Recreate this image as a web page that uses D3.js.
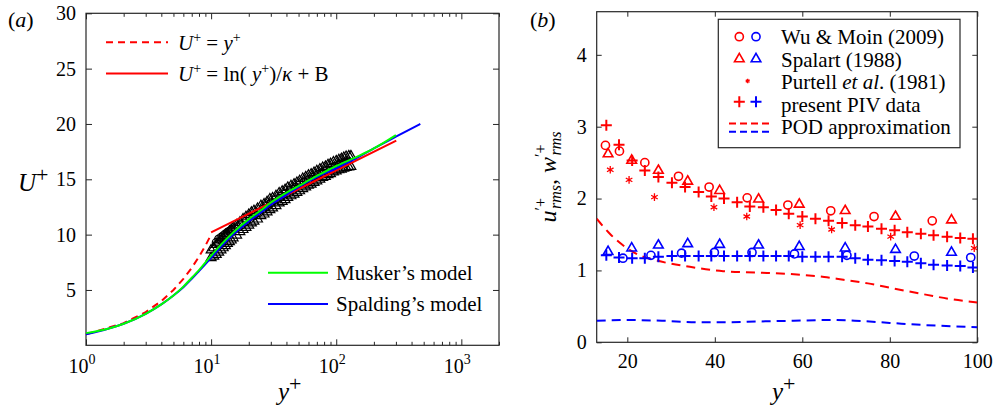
<!DOCTYPE html>
<html>
<head>
<meta charset="utf-8">
<script src="https://cdn.jsdelivr.net/npm/d3@7"></script>
</head>
<body style="margin:0; background:#fff">
<svg id="chart" width="999" height="411"></svg>
<script>
// ---- panel (a): mean velocity, U+ vs y+ ----
var linearY = [1, 2, 3, 4, 5, 6, 7, 8, 9, 10];
var linearU = [1, 2, 3, 4, 5, 6, 7, 8, 9, 10];
var logLawY = [10, 55, 302];
var logLawU = [10.2, 14.35, 18.5];
var muskerY = [1, 1.5, 2, 3, 4, 5, 6, 7, 8, 10, 12, 15, 20, 25, 30, 40, 50, 70, 100, 150, 200, 300];
var muskerU = [1.1, 1.5, 1.95, 2.85, 3.7, 4.5, 5.3, 6.1, 6.8, 8.1, 9.1, 10.2, 11.4, 12.2, 12.9, 13.8, 14.4, 15.3, 16.2, 17.1, 17.8, 19.0];
var spaldingY = [1, 1.5, 2, 3, 4, 5, 6, 7, 8, 10, 12, 15, 20, 25, 30, 40, 50, 70, 100, 150, 200, 300, 470];
var spaldingU = [1.0, 1.5, 1.95, 2.85, 3.7, 4.5, 5.25, 6.0, 6.7, 7.9, 8.9, 10.0, 11.2, 12.0, 12.7, 13.6, 14.3, 15.2, 16.0, 17.0, 17.8, 18.85, 20.0];

// measured profiles (black triangles / circles), upper, middle and lower parts of the band
var triY = [10, 10.5, 11, 11.5, 12, 12.5, 13, 13.5, 14, 14.5, 15, 16, 17, 18, 19, 20, 21, 22, 23.5, 25, 26.5, 28, 29.5, 31, 33, 35, 37, 39, 41, 43.5, 46, 48.5, 51, 54, 57, 60, 63, 66.5, 70, 74, 78, 82, 86, 90, 95, 100, 105, 110, 115, 120, 126, 131];
var triUpperU = [8.6, 8.8, 9.1, 9.3, 9.5, 9.7, 9.9, 10.1, 10.3, 10.45, 10.6, 10.85, 11.1, 11.4, 11.6, 11.8, 12.0, 12.15, 12.35, 12.6, 12.75, 12.95, 13.2, 13.3, 13.5, 13.75, 13.9, 14.05, 14.25, 14.4, 14.55, 14.7, 14.85, 15.05, 15.2, 15.35, 15.45, 15.6, 15.75, 15.9, 16.05, 16.15, 16.3, 16.4, 16.55, 16.65, 16.75, 16.85, 16.95, 17.05, 17.1, 17.1];
var triLowerU = [7.9, 8.05, 8.2, 8.4, 8.6, 8.8, 9.0, 9.2, 9.35, 9.5, 9.7, 9.95, 10.25, 10.45, 10.65, 10.85, 11.05, 11.2, 11.4, 11.7, 11.85, 12.05, 12.25, 12.4, 12.6, 12.85, 13.0, 13.15, 13.35, 13.5, 13.65, 13.8, 13.95, 14.15, 14.3, 14.45, 14.55, 14.7, 14.85, 15.0, 15.15, 15.25, 15.4, 15.5, 15.65, 15.75, 15.85, 15.9, 16.0, 16.05, 16.1, 16.15];
var circY = [11, 11.5, 12, 12.5, 13, 13.5, 14, 14.5, 15.5, 16.5, 17.5, 19, 20.5, 22, 24, 26, 28, 30, 33, 36, 39.5, 43, 47, 51, 55.5, 60, 65, 71, 77, 84, 91, 98, 106, 115, 124];
var circU = [9.3, 9.6, 9.75, 9.9, 10.05, 10.2, 10.3, 10.4, 10.55, 10.7, 10.9, 11.2, 11.45, 11.7, 12.0, 12.3, 12.55, 12.85, 13.15, 13.45, 13.7, 14.0, 14.25, 14.5, 14.75, 14.95, 15.2, 15.4, 15.6, 15.8, 16.0, 16.15, 16.35, 16.5, 16.65];

var aYTicks = [5, 10, 15, 20, 25, 30];
var aXDecades = [1, 10, 100, 1000];
var aXExponents = ['0', '1', '2', '3'];

// ---- panel (b): rms fluctuations ----
var pivY = [15.2, 18.1, 21.1, 24, 27.1, 30.2, 33.2, 36.3, 39.2, 42.1, 45.1, 48, 51.1, 54, 56.9, 60, 63, 66, 69.1, 72.1, 75, 78.1, 81.1, 84, 87.1, 90, 93.1, 96.1, 99];
var pivU = [3.02, 2.75, 2.53, 2.39, 2.30, 2.22, 2.16, 2.09, 2.03, 2.00, 1.95, 1.89, 1.88, 1.84, 1.79, 1.75, 1.72, 1.69, 1.66, 1.63, 1.61, 1.58, 1.56, 1.53, 1.51, 1.49, 1.47, 1.45, 1.44];
var pivW = [1.21, 1.18, 1.17, 1.17, 1.19, 1.20, 1.20, 1.20, 1.20, 1.20, 1.20, 1.20, 1.20, 1.20, 1.20, 1.19, 1.19, 1.19, 1.19, 1.17, 1.15, 1.14, 1.13, 1.12, 1.10, 1.08, 1.07, 1.06, 1.04];

var wuUY = [15, 18.2, 24, 31.7, 38.7, 47.4, 56.7, 66.5, 76.4, 89.7];
var wuU = [2.74, 2.66, 2.50, 2.31, 2.16, 2.01, 1.91, 1.83, 1.75, 1.69];
var wuWY = [19, 25.4, 32.4, 39.9, 48.5, 58.2, 70.2, 85.6, 98.5];
var wuW = [1.17, 1.21, 1.24, 1.25, 1.25, 1.23, 1.21, 1.20, 1.18];

var spalartY = [15.6, 21, 27.1, 33.8, 41.1, 50, 59.3, 69.8, 81.3, 94.1];
var spalartU = [2.62, 2.53, 2.39, 2.24, 2.11, 1.99, 1.92, 1.83, 1.75, 1.70];
var spalartW = [1.26, 1.31, 1.35, 1.37, 1.36, 1.35, 1.33, 1.31, 1.29, 1.25];

var purtellY = [16.1, 20.4, 26.2, 39.8, 47.3, 59.5, 66.7, 80.2, 99.3];
var purtellU = [2.40, 2.26, 2.02, 1.88, 1.75, 1.63, 1.57, 1.47, 1.31];

var podUY = [13, 16, 19, 22.8, 26.6, 34.3, 41.9, 50.3, 59.5, 65, 69.4, 75, 80.8, 88.5, 94, 100];
var podU = [1.72, 1.51, 1.35, 1.21, 1.14, 1.05, 0.99, 0.97, 0.94, 0.91, 0.87, 0.82, 0.75, 0.66, 0.60, 0.555];
var podWY = [13, 20, 28, 36, 43, 50, 58, 66, 72, 80, 88, 100];
var podW = [0.30, 0.31, 0.30, 0.28, 0.28, 0.29, 0.30, 0.31, 0.30, 0.27, 0.24, 0.21];

var bXTicks = [20, 40, 60, 80, 100];
var bYTicks = [0, 1, 2, 3, 4];

var RED = '#ff0000', BLUE = '#0000ff', GREEN = '#00ff00', AXIS = '#262626';

var svg = d3.select('#chart');

var boxA = {left: 86, right: 499, top: 13.3, bottom: 345.3};
var boxB = {left: 596.7, right: 977.3, top: 11.7, bottom: 342.3};

var xA = d3.scaleLog().domain([1, 2000]).range([boxA.left, boxA.right]);
var yA = d3.scaleLinear().domain([0, 30]).range([boxA.bottom, boxA.top]);
var xB = d3.scaleLinear().domain([13, 100]).range([boxB.left, boxB.right]);
var yB = d3.scaleLinear().domain([0, 4.6]).range([boxB.bottom, boxB.top]);

function pairs(xs, ys) { return xs.map(function(v, i) { return [v, ys[i]]; }); }

// plain text helper: every label goes through here so it gets the serif face
function label(g, x, y, size) {
  return g.append('text').attr('x', x).attr('y', y)
    .attr('font-size', size).style('font-family', "'Liberation Serif'");
}

function styleAxis(sel) {
  sel.select('.domain').remove();
  sel.attr('font-family', null).attr('font-size', 20);
  sel.selectAll('.tick line').attr('stroke', AXIS);
  sel.selectAll('.tick text').attr('fill', '#000').style('font-family', "'Liberation Serif'");
}

// ---------- panel (a) ----------
var gA = svg.append('g');

var minorA = [];
aXDecades.forEach(function(d) {
  d3.range(2, 10).forEach(function(m) { if (d * m <= 2000) minorA.push(d * m); });
});
var isMajor = function(v) { return aXDecades.indexOf(v) >= 0; };

gA.append('g').attr('transform', 'translate(0,' + boxA.bottom + ')')
  .call(d3.axisBottom(xA).tickValues(aXDecades.concat(minorA)).tickSize(-6).tickFormat(''))
  .call(styleAxis)
  .selectAll('.tick line').attr('y2', function(d) { return isMajor(d) ? -6 : -3.5; });
gA.append('g').attr('transform', 'translate(0,' + boxA.top + ')')
  .call(d3.axisTop(xA).tickValues(aXDecades.concat(minorA)).tickSize(-6).tickFormat(''))
  .call(styleAxis)
  .selectAll('.tick line').attr('y2', function(d) { return isMajor(d) ? 6 : 3.5; });

gA.append('g').attr('transform', 'translate(' + boxA.left + ',0)')
  .call(d3.axisLeft(yA).tickValues(aYTicks).tickSize(-6).tickPadding(10))
  .call(styleAxis);
gA.append('g').attr('transform', 'translate(' + boxA.right + ',0)')
  .call(d3.axisRight(yA).tickValues(aYTicks).tickSize(-6).tickFormat(''))
  .call(styleAxis);

// decade labels 10^n
aXDecades.forEach(function(d, i) {
  var t = label(gA, xA(d) - 4, 373, 20).attr('text-anchor', 'middle');
  t.append('tspan').text('10');
  t.append('tspan').attr('dy', -9).attr('font-size', 14).text(aXExponents[i]);
});

gA.append('rect')
  .attr('x', boxA.left).attr('y', boxA.top)
  .attr('width', boxA.right - boxA.left).attr('height', boxA.bottom - boxA.top)
  .attr('fill', 'none').attr('stroke', AXIS).attr('stroke-width', 1.2);

var lineA = d3.line().x(function(d) { return xA(d[0]); }).y(function(d) { return yA(d[1]); });

// measured data
var triSym = d3.symbol().type(d3.symbolTriangle).size(42);
gA.append('g').selectAll('path')
  .data(pairs(triY, triUpperU).concat(pairs(triY, triLowerU)))
  .enter().append('path')
    .attr('d', triSym)
    .attr('transform', function(d) { return 'translate(' + xA(d[0]) + ',' + yA(d[1]) + ')'; })
    .attr('fill', 'none').attr('stroke', '#000').attr('stroke-width', 1.2);
gA.append('g').selectAll('circle')
  .data(pairs(circY, circU))
  .enter().append('circle')
    .attr('cx', function(d) { return xA(d[0]); })
    .attr('cy', function(d) { return yA(d[1]); })
    .attr('r', 4)
    .attr('fill', 'none').attr('stroke', '#000').attr('stroke-width', 1.2);

gA.append('path').datum(pairs(linearY, linearU)).attr('d', lineA)
  .attr('fill', 'none').attr('stroke', RED).attr('stroke-width', 2).attr('stroke-dasharray', '7,5');
gA.append('path').datum(pairs(logLawY, logLawU)).attr('d', lineA)
  .attr('fill', 'none').attr('stroke', RED).attr('stroke-width', 2);
gA.append('path').datum(pairs(spaldingY, spaldingU)).attr('d', lineA.curve(d3.curveMonotoneX))
  .attr('fill', 'none').attr('stroke', BLUE).attr('stroke-width', 2);
gA.append('path').datum(pairs(muskerY, muskerU)).attr('d', lineA.curve(d3.curveMonotoneX))
  .attr('fill', 'none').attr('stroke', GREEN).attr('stroke-width', 2);

// legends in (a)
function legLine(g, x1, x2, y, color, dash) {
  g.append('line').attr('x1', x1).attr('x2', x2).attr('y1', y).attr('y2', y)
    .attr('stroke', color).attr('stroke-width', 2).attr('stroke-dasharray', dash || null);
}
legLine(gA, 106, 168, 42.3, RED, '7,5');
legLine(gA, 106, 168, 73.5, RED);
legLine(gA, 268, 328, 272.7, GREEN);
legLine(gA, 268, 328, 304, BLUE);

var t1 = label(gA, 178, 49.5, 21);
t1.append('tspan').attr('font-style', 'italic').text('U');
t1.append('tspan').attr('dy', -8).attr('font-size', 14).text('+');
t1.append('tspan').attr('dy', 8).text(' = ');
t1.append('tspan').attr('font-style', 'italic').text('y');
t1.append('tspan').attr('dy', -8).attr('font-size', 14).text('+');

var t2 = label(gA, 178, 81, 21);
t2.append('tspan').attr('font-style', 'italic').text('U');
t2.append('tspan').attr('dy', -8).attr('font-size', 14).text('+');
t2.append('tspan').attr('dy', 8).text(' = ln( ');
t2.append('tspan').attr('font-style', 'italic').text('y');
t2.append('tspan').attr('dy', -8).attr('font-size', 14).text('+');
t2.append('tspan').attr('dy', 8).text(')/');
t2.append('tspan').attr('font-style', 'italic').text('κ');
t2.append('tspan').text(' + B');

label(gA, 336, 279.5, 21).text('Musker’s model');
label(gA, 336, 311, 21).text('Spalding’s model');

// axis titles (a)
var ua = label(gA, 18, 191, 25);
ua.append('tspan').attr('font-style', 'italic').text('U');
ua.append('tspan').attr('dy', -9).attr('font-size', 22).text('+');
var ya = label(gA, 278, 400, 25);
ya.append('tspan').attr('font-style', 'italic').text('y');
ya.append('tspan').attr('dy', -9).attr('font-size', 22).text('+');
var pa = label(gA, 8, 27, 22);
pa.append('tspan').text('(');
pa.append('tspan').attr('font-style', 'italic').text('a');
pa.append('tspan').text(')');

// ---------- panel (b) ----------
var gB = svg.append('g');

gB.append('g').attr('transform', 'translate(0,' + boxB.bottom + ')')
  .call(d3.axisBottom(xB).tickValues(bXTicks).tickSize(-5).tickPadding(12))
  .call(styleAxis);
gB.append('g').attr('transform', 'translate(0,' + boxB.top + ')')
  .call(d3.axisTop(xB).tickValues(bXTicks).tickSize(-5).tickFormat(''))
  .call(styleAxis);
gB.append('g').attr('transform', 'translate(' + boxB.left + ',0)')
  .call(d3.axisLeft(yB).tickValues(bYTicks).tickFormat(d3.format('d')).tickSize(-5).tickPadding(10))
  .call(styleAxis);
gB.append('g').attr('transform', 'translate(' + boxB.right + ',0)')
  .call(d3.axisRight(yB).tickValues(bYTicks).tickSize(-5).tickFormat(''))
  .call(styleAxis);

gB.append('rect')
  .attr('x', boxB.left).attr('y', boxB.top)
  .attr('width', boxB.right - boxB.left).attr('height', boxB.bottom - boxB.top)
  .attr('fill', 'none').attr('stroke', AXIS).attr('stroke-width', 1.2);

svg.append('clipPath').attr('id', 'clipB').append('rect')
  .attr('x', boxB.left).attr('y', boxB.top)
  .attr('width', boxB.right - boxB.left).attr('height', boxB.bottom - boxB.top);

var plotB = gB.append('g').attr('clip-path', 'url(#clipB)');
var lineB = d3.line().curve(d3.curveMonotoneX)
  .x(function(d) { return xB(d[0]); }).y(function(d) { return yB(d[1]); });

plotB.append('path').datum(pairs(podUY, podU)).attr('d', lineB)
  .attr('fill', 'none').attr('stroke', RED).attr('stroke-width', 2).attr('stroke-dasharray', '9,6');
plotB.append('path').datum(pairs(podWY, podW)).attr('d', lineB)
  .attr('fill', 'none').attr('stroke', BLUE).attr('stroke-width', 2).attr('stroke-dasharray', '9,6');

var circleSym = d3.symbol().type(d3.symbolCircle).size(52);
var triangleSym = d3.symbol().type(d3.symbolTriangle).size(40);
var starSym = d3.symbol().type(d3.symbolAsterisk).size(40);
var plusPath = 'M-5.5,0H5.5M0,-5.5V5.5';

function markers(g, data, path, color, width) {
  g.append('g').selectAll('path').data(data).enter().append('path')
    .attr('d', path)
    .attr('transform', function(d) { return 'translate(' + xB(d[0]) + ',' + yB(d[1]) + ')'; })
    .attr('fill', 'none').attr('stroke', color).attr('stroke-width', width);
}

markers(plotB, pairs(wuUY, wuU), circleSym, RED, 1.6);
markers(plotB, pairs(wuWY, wuW), circleSym, BLUE, 1.6);
markers(plotB, pairs(spalartY, spalartU), triangleSym, RED, 1.6);
markers(plotB, pairs(spalartY, spalartW), triangleSym, BLUE, 1.6);
markers(plotB, pairs(purtellY, purtellU), starSym, RED, 1.3);
markers(plotB, pairs(pivY, pivU), plusPath, RED, 2);
markers(plotB, pairs(pivY, pivW), plusPath, BLUE, 2);

// legend (b)
var leg = gB.append('g');
leg.append('rect').attr('x', 718.3).attr('y', 19.3).attr('width', 241.7).attr('height', 128.4)
  .attr('fill', '#fff').attr('stroke', AXIS).attr('stroke-width', 1.2);

function legMark(path, x, y, color, width) {
  leg.append('path').attr('d', path).attr('transform', 'translate(' + x + ',' + y + ')')
    .attr('fill', 'none').attr('stroke', color).attr('stroke-width', width);
}
legMark(circleSym, 739.3, 36.7, RED, 1.6);
legMark(circleSym, 756, 36.7, BLUE, 1.6);
legMark(triangleSym, 739.3, 59, RED, 1.6);
legMark(triangleSym, 756, 59, BLUE, 1.6);
legMark(d3.symbol().type(d3.symbolAsterisk).size(14), 747.7, 81, RED, 1.3);
legMark(plusPath, 739.3, 101.7, RED, 2);
legMark(plusPath, 756, 101.7, BLUE, 2);
leg.append('line').attr('x1', 729).attr('x2', 772).attr('y1', 123.5).attr('y2', 123.5)
  .attr('stroke', RED).attr('stroke-width', 2).attr('stroke-dasharray', '7,4');
leg.append('line').attr('x1', 729).attr('x2', 772).attr('y1', 131.7).attr('y2', 131.7)
  .attr('stroke', BLUE).attr('stroke-width', 2).attr('stroke-dasharray', '7,4');

var legX = 781;
label(leg, legX, 44, 21).text('Wu & Moin (2009)');
label(leg, legX, 66.5, 21).text('Spalart (1988)');
var lp = label(leg, legX, 89, 21);
lp.append('tspan').text('Purtell ');
lp.append('tspan').attr('font-style', 'italic').text('et al');
lp.append('tspan').text('. (1981)');
label(leg, legX, 111.5, 21).text('present PIV data');
label(leg, legX, 134, 21).text('POD approximation');

// axis titles (b)
var yb = label(gB, 772, 400, 25);
yb.append('tspan').attr('font-style', 'italic').text('y');
yb.append('tspan').attr('dy', -9).attr('font-size', 22).text('+');

var ub = label(gB, 0, 0, 24).attr('transform', 'translate(556,177) rotate(-90)')
  .attr('text-anchor', 'middle');
ub.append('tspan').attr('font-style', 'italic').text('u');
ub.append('tspan').attr('dy', -10).attr('font-size', 16).text('′+');
ub.append('tspan').attr('dx', -11).attr('dy', 15).attr('font-size', 16).attr('font-style', 'italic').text('rms');
ub.append('tspan').attr('dy', -5).text(', ');
ub.append('tspan').attr('font-style', 'italic').text('w');
ub.append('tspan').attr('dy', -10).attr('font-size', 16).text('′+');
ub.append('tspan').attr('dx', -11).attr('dy', 15).attr('font-size', 16).attr('font-style', 'italic').text('rms');

var pb = label(gB, 530, 27, 22);
pb.append('tspan').text('(');
pb.append('tspan').attr('font-style', 'italic').text('b');
pb.append('tspan').text(')');
</script>
</body>
</html>
